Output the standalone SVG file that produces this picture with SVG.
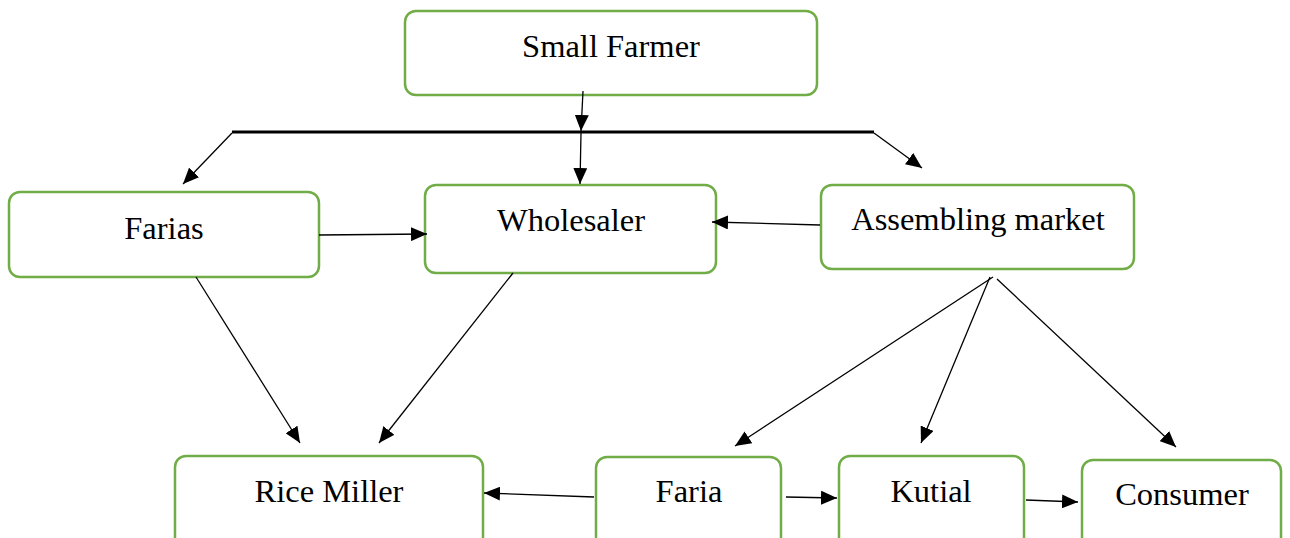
<svg xmlns="http://www.w3.org/2000/svg" width="1290" height="538" viewBox="0 0 1290 538">
<style>
.box{fill:#fff;stroke:#70ad47;stroke-width:2.5}
.lbl{font-family:"Liberation Serif","Times New Roman",serif;font-size:32.5px;fill:#000;text-anchor:middle}
.c{stroke:#000;stroke-width:1.3;fill:none;marker-end:url(#ah)}
</style>
<defs>
<marker id="ah" markerUnits="userSpaceOnUse" markerWidth="18" markerHeight="14" refX="16" refY="7" orient="auto">
<path d="M0,0 L16,7 L0,14 Z" fill="#000"/>
</marker>
</defs>
<rect width="1290" height="538" fill="#fff"/>
<g id="small-farmer"><rect class="box" x="405" y="11" width="412" height="84" rx="11"/><text class="lbl" x="611" y="57">Small Farmer</text></g>
<g id="farias"><rect class="box" x="9" y="192" width="310" height="85" rx="11"/><text class="lbl" x="164" y="239">Farias</text></g>
<g id="wholesaler"><rect class="box" x="425" y="185" width="291" height="88" rx="11"/><text class="lbl" x="571" y="231">Wholesaler</text></g>
<g id="assembling-market"><rect class="box" x="821" y="185" width="313" height="84" rx="11"/><text class="lbl" x="978" y="230">Assembling market</text></g>
<g id="rice-miller"><rect class="box" x="175" y="456" width="308" height="92" rx="11"/><text class="lbl" x="329" y="502">Rice Miller</text></g>
<g id="faria"><rect class="box" x="596" y="457" width="185" height="91" rx="11"/><text class="lbl" x="689" y="502">Faria</text></g>
<g id="kutial"><rect class="box" x="839" y="456" width="185" height="92" rx="11"/><text class="lbl" x="931" y="502">Kutial</text></g>
<g id="consumer"><rect class="box" x="1082" y="460" width="199" height="88" rx="11"/><text class="lbl" x="1182" y="505">Consumer</text></g>
<g id="connectors">
<line x1="232" y1="132" x2="874" y2="132" stroke="#000" stroke-width="3"/>
<line class="c" x1="583" y1="91" x2="581" y2="131"/>
<line class="c" x1="232" y1="133" x2="183" y2="184"/>
<line class="c" x1="581" y1="133" x2="580" y2="184"/>
<line class="c" x1="874" y1="133" x2="922" y2="168"/>
<line class="c" x1="319" y1="235" x2="427" y2="234"/>
<line class="c" x1="820" y1="225" x2="712" y2="222"/>
<line class="c" x1="196" y1="277" x2="300" y2="443"/>
<line class="c" x1="513" y1="273" x2="379" y2="443"/>
<line class="c" x1="993" y1="277" x2="735" y2="446"/>
<line class="c" x1="990" y1="277" x2="921" y2="443"/>
<line class="c" x1="997" y1="279" x2="1176" y2="447"/>
<line class="c" x1="594" y1="497" x2="484" y2="493"/>
<line class="c" x1="786" y1="497" x2="837" y2="498"/>
<line class="c" x1="1026" y1="500" x2="1078" y2="502"/>
</g>
</svg>
